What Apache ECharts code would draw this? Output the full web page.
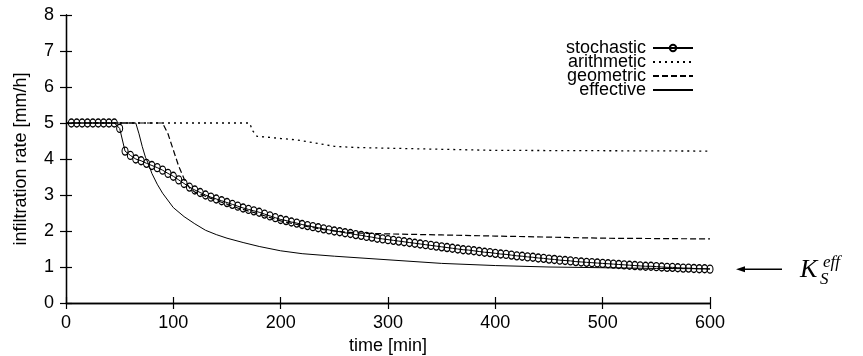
<!DOCTYPE html>
<html><head><meta charset="utf-8">
<script src="https://cdn.jsdelivr.net/npm/echarts@6/dist/echarts.min.js"></script>
<style>html,body{margin:0;padding:0;background:#fff}#c{width:863px;height:356px}</style>
</head><body><div id="c"></div>
<script>
// ---- data ----
const xTicks = [0, 100, 200, 300, 400, 500, 600];
const yTicks = [0, 1, 2, 3, 4, 5, 6, 7, 8];
const seriesNames = ['stochastic', 'arithmetic', 'geometric', 'effective'];

// stochastic: sampled every 5 min starting at t = 5
const stochStart = 5, stochStep = 5;
const stochastic = [
  5.0, 5.0, 5.0, 5.0, 5.0, 5.0, 5.0, 5.0, 5.0,            // 5..45
  4.85, 4.22, 4.10, 4.00, 3.95, 3.88, 3.82, 3.76, 3.69, 3.60, // 50..95
  3.52, 3.42, 3.32, 3.22, 3.14, 3.07, 3.00, 2.94, 2.89, 2.84, // 100..145
  2.79, 2.74, 2.69, 2.64, 2.60, 2.56, 2.52, 2.47, 2.42, 2.37, // 150..195
  2.32, 2.29, 2.25, 2.22, 2.18, 2.15, 2.12, 2.09, 2.06, 2.03, // 200..245
  2.00, 1.98, 1.95, 1.93, 1.90, 1.88, 1.85, 1.83, 1.80, 1.78, // 250..295
  1.76, 1.74, 1.72, 1.70, 1.68, 1.66, 1.64, 1.62, 1.60, 1.58, // 300..345
  1.56, 1.54, 1.52, 1.50, 1.48, 1.47, 1.45, 1.43, 1.41, 1.40, // 350..395
  1.38, 1.36, 1.35, 1.33, 1.31, 1.30, 1.28, 1.27, 1.25, 1.24, // 400..445
  1.22, 1.21, 1.19, 1.18, 1.17, 1.15, 1.14, 1.13, 1.12, 1.11, // 450..495
  1.10, 1.09, 1.08, 1.07, 1.06, 1.05, 1.04, 1.03, 1.02, 1.02, // 500..545
  1.01, 1.00, 0.99, 0.99, 0.98, 0.97, 0.97, 0.96, 0.95, 0.95, // 550..595
  0.94                                                        // 600
];

const arithTime  = [0, 171, 174, 178, 190, 200, 215, 237, 250, 270, 300, 350, 400, 500, 600];
const arithmetic = [5.0, 5.0, 4.78, 4.63, 4.60, 4.57, 4.53, 4.42, 4.35, 4.32, 4.30, 4.27, 4.24, 4.23, 4.22];

const geoTime   = [0, 90, 95, 100, 105, 110, 115, 120, 140, 160, 180, 200, 220, 240, 260, 275, 300, 350, 400, 450, 500, 550, 600];
const geometric = [5.0, 5.0, 4.70, 4.25, 3.80, 3.45, 3.20, 3.08, 2.85, 2.64, 2.47, 2.28, 2.15, 2.04, 1.97, 1.94, 1.92, 1.89, 1.86, 1.83, 1.80, 1.79, 1.78];

const effTime   = [0, 65, 68, 71, 74, 77, 80, 85, 90, 100, 110, 120, 130, 140, 150, 165, 180, 200, 220, 250, 300, 350, 400, 450, 500, 550, 600];
const effective = [5.0, 5.0, 4.70, 4.35, 4.05, 3.85, 3.60, 3.30, 3.05, 2.65, 2.40, 2.20, 2.02, 1.90, 1.80, 1.68, 1.57, 1.45, 1.37, 1.30, 1.20, 1.10, 1.04, 1.00, 0.98, 0.96, 0.95];

const KSEFF = 0.94;

// ---- build ----
const pair = (ts, vs) => ts.map((t, i) => [t, vs[i]]);
const stochData = stochastic.map((v, i) => [stochStart + i * stochStep, v]);

const FONT = 'Liberation Sans, Arial, sans-serif';
const chart = echarts.init(document.getElementById('c'), null, {renderer: 'canvas'});
const axisLineStyle = {color: '#000', width: 1.3};
const tickStyle = {color: '#000', width: 1.2};
const noMarker = {color: 'rgba(0,0,0,0)', borderColor: 'rgba(0,0,0,0)', borderWidth: 0};

chart.setOption({
  animation: false,
  backgroundColor: '#fff',
  color: ['#000', '#000', '#000', '#000'],
  grid: {left: 66, right: 153, top: 15, bottom: 53, containLabel: false, outerBoundsMode: 'none'},
  legend: {
    right: 164, top: 34, orient: 'vertical', align: 'right',
    itemWidth: 40, itemHeight: 8, itemGap: -4,
    textStyle: {fontFamily: FONT, fontSize: 18, color: '#000', padding: [0, 2, 0, 0]},
    data: seriesNames.map(n => n === 'stochastic' ? {name: n} : {name: n, itemStyle: noMarker})
  },
  xAxis: [{
    type: 'value', min: xTicks[0], max: xTicks[xTicks.length - 1], interval: 100,
    name: 'time [min]', nameLocation: 'middle', nameGap: 29,
    nameTextStyle: {fontFamily: FONT, fontSize: 18, color: '#000'},
    axisLine: {show: true, lineStyle: axisLineStyle},
    axisTick: {show: true, inside: true, length: 6, lineStyle: tickStyle},
    axisLabel: {fontFamily: FONT, fontSize: 18, color: '#000', margin: 11},
    splitLine: {show: false}
  }, {
    type: 'value', position: 'top', min: xTicks[0], max: xTicks[xTicks.length - 1], interval: 100,
    axisLine: {show: true, lineStyle: axisLineStyle},
    axisTick: {show: true, inside: true, length: 6, lineStyle: tickStyle},
    axisLabel: {show: false}, splitLine: {show: false}
  }],
  yAxis: [{
    type: 'value', min: yTicks[0], max: yTicks[yTicks.length - 1], interval: 1,
    name: 'infiltration rate [mm/h]', nameLocation: 'middle', nameGap: 36,
    nameTextStyle: {fontFamily: FONT, fontSize: 18, color: '#000'},
    axisLine: {show: true, lineStyle: axisLineStyle},
    axisTick: {show: true, inside: true, length: 6, lineStyle: tickStyle},
    axisLabel: {fontFamily: FONT, fontSize: 18, color: '#000', margin: 12},
    splitLine: {show: false}
  }, {
    type: 'value', position: 'right', min: yTicks[0], max: yTicks[yTicks.length - 1], interval: 1,
    axisLine: {show: true, lineStyle: axisLineStyle},
    axisTick: {show: true, inside: true, length: 6, lineStyle: tickStyle},
    axisLabel: {show: false}, splitLine: {show: false}
  }],
  series: [
    {name: 'stochastic', type: 'line', data: stochData, showSymbol: true, showAllSymbol: true,
     symbol: 'circle', symbolSize: [6, 8],
     itemStyle: {color: 'rgba(255,255,255,0)', borderColor: '#000', borderWidth: 1.2},
     lineStyle: {color: '#000', width: 1}, z: 5},
    {name: 'arithmetic', type: 'line', data: pair(arithTime, arithmetic), showSymbol: false, symbol: 'none',
     itemStyle: {color: '#000'}, lineStyle: {color: '#000', width: 1.3, type: [2, 4]}},
    {name: 'geometric', type: 'line', data: pair(geoTime, geometric), showSymbol: false, symbol: 'none',
     itemStyle: {color: '#000'}, lineStyle: {color: '#000', width: 1.2, type: [6, 3]}},
    {name: 'effective', type: 'line', data: pair(effTime, effective), showSymbol: false, symbol: 'none',
     itemStyle: {color: '#000'}, lineStyle: {color: '#000', width: 1}}
  ]
});

// Annotation K_S^eff arrow at the effective value
const yK = chart.convertToPixel({yAxisIndex: 0}, KSEFF);
const SERIF = 'Liberation Serif, Times New Roman, serif';
chart.setOption({
  graphic: [
    {type: 'line', shape: {x1: 782, y1: yK, x2: 742, y2: yK}, style: {stroke: '#000', lineWidth: 1.5}},
    {type: 'polygon', shape: {points: [[736, yK], [745, yK - 3], [745, yK + 3]]}, style: {fill: '#000'}},
    {type: 'text', x: 800, y: yK + 14, style: {text: 'K', font: 'italic 26px ' + SERIF, fill: '#000', textVerticalAlign: 'bottom'}},
    {type: 'text', x: 823, y: yK + 2, style: {text: 'eff', font: 'italic 17px ' + SERIF, fill: '#000', textVerticalAlign: 'bottom'}},
    {type: 'text', x: 820, y: yK + 19, style: {text: 'S', font: 'italic 17px ' + SERIF, fill: '#000', textVerticalAlign: 'bottom'}}
  ]
});
</script>
</body></html>
